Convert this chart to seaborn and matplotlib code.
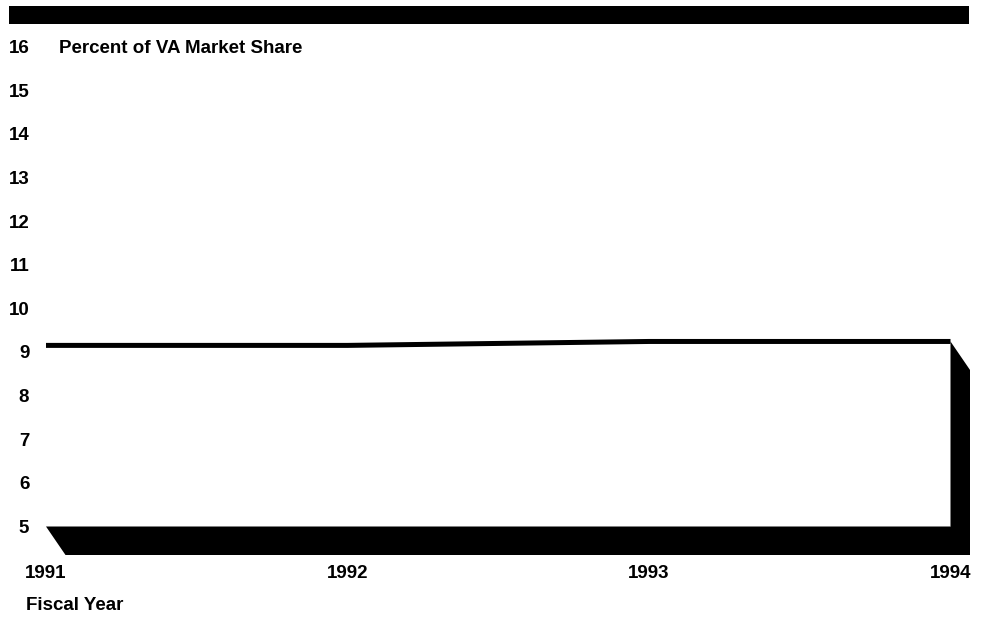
import matplotlib
matplotlib.use("Agg")
import matplotlib.pyplot as plt
from matplotlib.patches import Polygon, Rectangle
import pandas as pd
import seaborn as sns

# data
years = [1991, 1992, 1993, 1994]
share = [9.15, 9.15, 9.24, 9.24]
yticks = list(range(5, 17))

df = pd.DataFrame({"year": years, "share": share})

sns.set_theme(style="white")
plt.rcParams["font.family"] = ["Liberation Sans", "DejaVu Sans"]
plt.rcParams["font.weight"] = "bold"
plt.rcParams["text.color"] = "black"
plt.rcParams["xtick.color"] = "black"
plt.rcParams["ytick.color"] = "black"

fs = 13.5

fig = plt.figure(figsize=(9.9, 6.21), dpi=100)
ax = fig.add_axes([46 / 990, 66 / 621, 924 / 990, 531 / 621])

floor = 5
xmax = 1991 + 924 / 301.5
ymin = floor - 28.5 / 43.64
ymax = floor + 502.5 / 43.64
ax.set_xlim(years[0], xmax)
ax.set_ylim(ymin, ymax)
dx = xmax - years[-1]
dy = floor - ymin

sns.lineplot(data=df, x="year", y="share", color="black", linewidth=3.6,
             ax=ax, solid_capstyle="butt")

# 3d floor and right wall
ax.add_patch(Polygon([(years[0], floor), (years[-1], floor),
                      (years[-1] + dx, floor - dy), (years[0] + dx, floor - dy)],
                     closed=True, facecolor="black", edgecolor="none", clip_on=False))
ax.add_patch(Polygon([(years[-1], share[-1]), (years[-1] + dx, share[-1] - dy),
                      (years[-1] + dx, floor - dy), (years[-1], floor - dy)],
                     closed=True, facecolor="black", edgecolor="none", clip_on=False))

ax.set_yticks(yticks)
ax.set_yticklabels([str(t) for t in yticks], fontsize=fs, fontweight="bold")
ax.set_xticks(years)
ax.set_xticklabels([str(y) for y in years], fontsize=fs, fontweight="bold")
ax.tick_params(axis="y", length=0, pad=12)
ax.tick_params(axis="x", length=0, pad=7)
ax.set_xlabel("")
ax.set_ylabel("")
for s in ax.spines.values():
    s.set_visible(False)

ax.annotate("Percent of VA Market Share", xy=(years[0], 16), xytext=(9.2, -1.2),
            textcoords="offset points", va="center", ha="left",
            fontsize=fs, fontweight="bold")

fig.text(26 / 990, 11 / 621, "Fiscal Year", fontsize=fs, fontweight="bold",
         va="baseline", ha="left")

# top black band
fig.patches.append(Rectangle((9 / 990, 597 / 621), 960 / 990, 18 / 621,
                             transform=fig.transFigure, facecolor="black",
                             edgecolor="none"))

fig.savefig("out.png", dpi=100)
